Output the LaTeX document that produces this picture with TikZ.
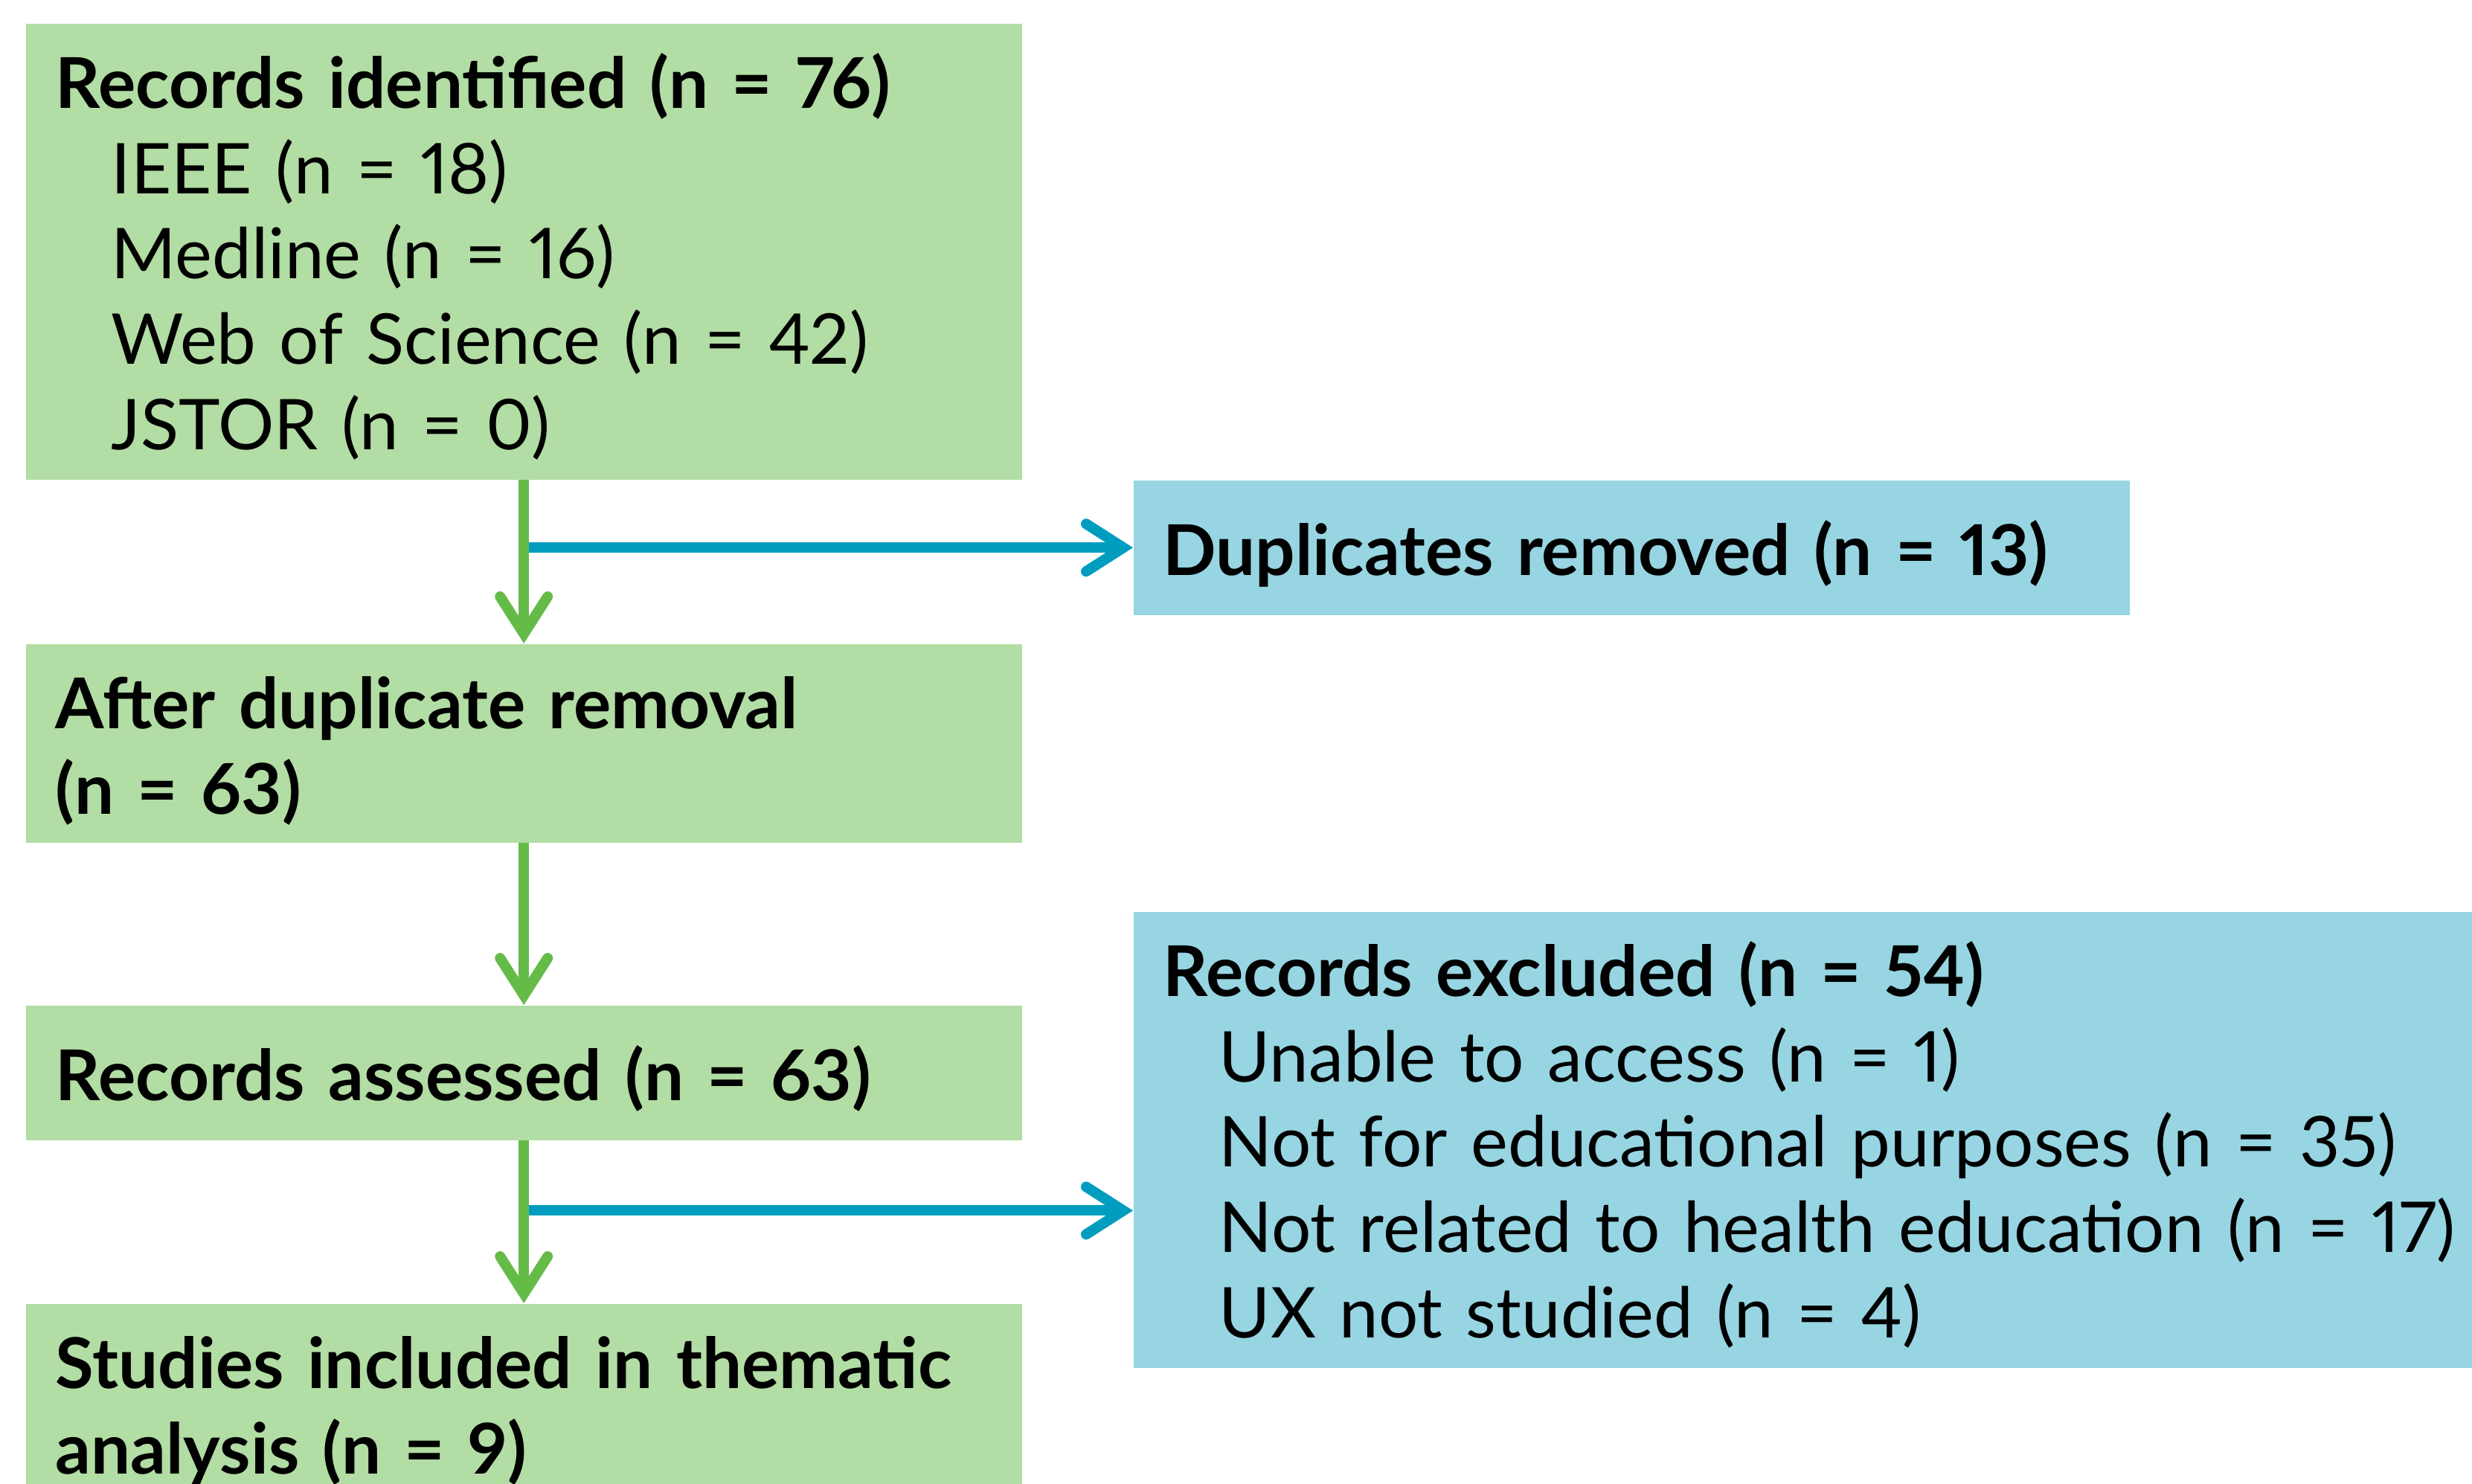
\documentclass[tikz,border=0pt]{standalone}
\usepackage{fontspec}
\setmainfont[Numbers=Proportional]{Lato}
\usepackage{tikz}
\usetikzlibrary{arrows.meta,positioning}
\definecolor{boxgreen}{RGB}{178,221,164}
\definecolor{boxblue}{RGB}{151,213,226}
\definecolor{arrgreen}{RGB}{101,187,72}
\definecolor{arrblue}{RGB}{1,157,191}
\tikzset{flowbox/.style={anchor=north west, inner xsep=4mm, inner ysep=0pt,
    align=left, text height=11.4mm,
    font=\fontsize{26.8}{32.6}\selectfont},
  greenbox/.style={flowbox, fill=boxgreen, text width=12.59cm},
  bluebox/.style={flowbox, fill=boxblue, text width=12.59cm},
  oneline/.style={text height=12.8mm, text depth=5.3mm},
  flowarrow/.style={line width=1.4mm,
    -{Straight Barb[length=5mm,width=6.4mm,line cap=round,line join=miter]}},
  greenarrow/.style={flowarrow, draw=arrgreen},
  bluearrow/.style={flowarrow, draw=arrblue}}
\def\inset{\hspace*{7.5mm}}
\begin{document}
\begin{tikzpicture}
    \useasboundingbox (0,0) rectangle (33.23,-19.94);

%left column
    \node[greenbox, text depth=49.9mm] (ident) at (0.34,-0.31)
      {\textbf{Records identified (n = 76)}\\
       \inset IEEE (n = 18)\\
       \inset Medline (n = 16)\\
       \inset Web of Science (n = 42)\\
       \inset JSTOR (n = 0)};
    \node[greenbox, text depth=15.3mm] (after) at (0.34,-8.65)
      {\textbf{After duplicate removal}\\ \textbf{(n = 63)}};
    \node[greenbox, oneline] (assessed) at (0.34,-13.51)
      {\textbf{Records assessed (n = 63)}};
    \node[greenbox, text depth=15.3mm] (included) at (0.34,-17.52)
      {\textbf{Studies included in thematic}\\ \textbf{analysis (n = 9)}};

%right column
    \node[bluebox, oneline] (dup) at (15.23,-6.45)
      {\textbf{Duplicates removed (n = 13)}};
    \node[bluebox, text width=19cm, text depth=49.9mm] (excluded) at (15.23,-12.25)
      {\textbf{Records excluded (n = 54)}\\
       \inset Unable to access (n = 1)\\
       \inset Not for educational purposes (n = 35)\\
       \inset Not related to health education (n = 17)\\
       \inset UX not studied (n = 4)};

    \coordinate[below=9.4mm of assessed.south] (split);

    \draw[bluearrow] (ident.south |- dup.west) -- (dup.west);
    \draw[bluearrow] (split) -- (split -| excluded.west);

    \draw[greenarrow] (ident.south) -- (after.north);
    \draw[greenarrow] (after.south) -- (assessed.north);
    \draw[greenarrow] (assessed.south) -- (included.north);
\end{tikzpicture}
\end{document}
